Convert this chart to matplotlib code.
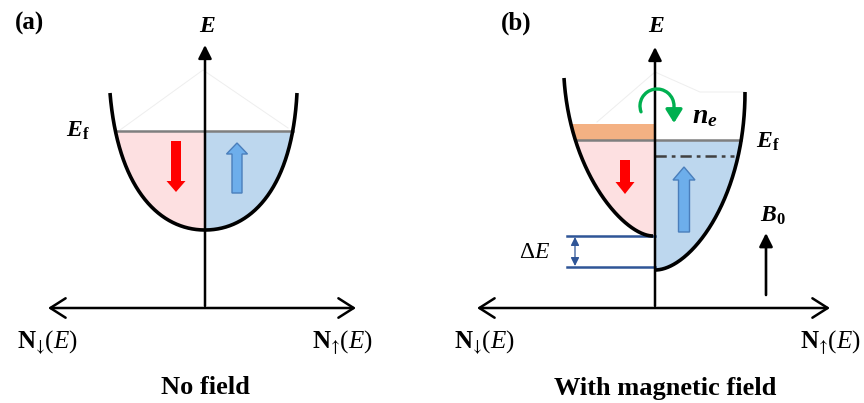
import matplotlib
matplotlib.use('Agg')
import matplotlib.pyplot as plt
import numpy as np
from matplotlib.patches import FancyArrowPatch
from matplotlib.path import Path
from matplotlib.transforms import Affine2D

plt.rcParams['mathtext.fontset'] = 'custom'
plt.rcParams['mathtext.rm'] = 'Liberation Serif'
plt.rcParams['mathtext.it'] = 'Liberation Serif:italic'
plt.rcParams['mathtext.bf'] = 'Liberation Serif:bold'
plt.rcParams['mathtext.bfit'] = 'Liberation Serif:italic:bold'
plt.rcParams['mathtext.sf'] = 'STIXGeneral'   # taller spin arrows
plt.rcParams['font.family'] = 'Liberation Serif'

# band edges as cubic bezier control points (x, energy), drawn top -> bottom
a_down = [(110, 93), (118, 190), (160, 230), (205, 230)]
a_up = [(297, 93), (292, 190), (250, 230), (205, 230)]
b_down = [(564, 78), (570, 175), (625, 236), (653, 236)]
b_up = [(745, 92), (745, 200), (690, 270), (655, 270)]

axis_a = 205
axis_b = 655
ef_a = 131
ef_b = 140
band_top_b = 124      # extra spin-down electrons moved above Ef
dashed_b = 156        # old spin-up level
gap_top, gap_bot = 236, 267   # Zeeman splitting

pink = '#fde0e1'
blue = '#bdd7ee'
orange = '#f4b183'

lbl_down = r'$\mathbf{N}_{\mathsf{↓}}(\mathit{E})$'
lbl_up = r'$\mathbf{N}_{\mathsf{↑}}(\mathit{E})$'


def bezier(ctrl, n=200):
    p = np.array(ctrl, dtype=float)
    t = np.linspace(0, 1, n)[:, None]
    pts = ((1 - t) ** 3 * p[0] + 3 * (1 - t) ** 2 * t * p[1]
           + 3 * (1 - t) * t ** 2 * p[2] + t ** 3 * p[3])
    return pts[:, 0], pts[:, 1]


def fill_band(ax, ctrl, y1, y2, xaxis, color):
    xs, ys = bezier(ctrl)
    m = (ys >= y1) & (ys <= y2)
    x1 = np.interp(y1, ys, xs)
    x2 = np.interp(min(y2, ys[-1]), ys, xs)
    px = [x1] + list(xs[m]) + [x2, xaxis, xaxis]
    py = [y1] + list(ys[m]) + [min(y2, ys[-1]), min(y2, ys[-1]), y1]
    ax.fill(px, py, color=color, lw=0, zorder=1)
    return x1


def arrow(ax, p0, p1, style, color='black', lw=1.8, z=5):
    ax.add_patch(FancyArrowPatch(p0, p1, arrowstyle=style, mutation_scale=1,
                                 color=color, lw=lw, shrinkA=0, shrinkB=0,
                                 zorder=z))


fig = plt.figure(figsize=(8.64, 4.03), dpi=100)
ax = fig.add_axes([0, 0, 1, 1])
ax.set_xlim(0, 864)
ax.set_ylim(403, 0)
ax.axis('off')

# ---- (a) no field ----
ax.plot([120, 203, 288], [130, 70, 128], color='#eeeeee', lw=0.7, zorder=0)
xl = fill_band(ax, a_down, ef_a, 999, axis_a, pink)
xr = fill_band(ax, a_up, ef_a, 999, axis_a, blue)
ax.plot([xl, xr], [ef_a, ef_a], color='#7f7f7f', lw=1.8, zorder=2)
for c in (a_down, a_up):
    ax.plot(*bezier(c), color='black', lw=2.6, zorder=3, solid_capstyle='butt')
arrow(ax, (48, 308), (356, 308), '<->,head_length=11,head_width=7')
arrow(ax, (axis_a, 306), (axis_a, 45), '-|>,head_length=8,head_width=4')
ax.arrow(176, 141, 0, 40, width=10, head_width=19, head_length=11,
         length_includes_head=False, color='#ff0000', lw=0, zorder=4)
ax.arrow(237, 193, 0, -39, width=10, head_width=21, head_length=11,
         length_includes_head=False, fc='#6daeeb', ec='#4a7ebb', lw=1, zorder=4)

ax.text(30, 23, '(a)', fontsize=18, fontweight='bold', ha='center', va='center')
ax.text(207, 26, r'$\mathbfit{E}$', fontsize=17, ha='center', va='center')
ax.text(78, 131, r'$\mathbfit{E}_{\mathbf{f}}$', fontsize=17, ha='center', va='center')
ax.text(17, 348, lbl_down, fontsize=18, va='baseline')
ax.text(312, 348, lbl_up, fontsize=18, va='baseline')
ax.text(205, 388, 'No field', fontsize=19, fontweight='bold', ha='center',
        va='center')

# ---- (b) with magnetic field ----
ax.plot([597, 655, 700, 745], [122, 72, 92, 92], color='#eeeeee', lw=0.7,
        zorder=0)
xl = fill_band(ax, b_down, ef_b, 999, axis_b, pink)
fill_band(ax, b_down, band_top_b, ef_b, axis_b, orange)
xr = fill_band(ax, b_up, ef_b, 999, axis_b, blue)
ax.plot([xl, xr], [ef_b, ef_b], color='#7f7f7f', lw=1.8, zorder=2)
xs, ys = bezier(b_up)
ax.plot([axis_b, np.interp(dashed_b, ys, xs) - 4], [dashed_b, dashed_b],
        color='#404040', lw=1.8, dashes=(4.5, 2, 1.5, 2), zorder=2)
for c in (b_down, b_up):
    ax.plot(*bezier(c), color='black', lw=2.6, zorder=3, solid_capstyle='butt')

# Zeeman gap markers
for y in (gap_top, gap_bot):
    ax.plot([567, axis_b], [y, y], color='#2f5597', lw=1.8, zorder=2)
arrow(ax, (575, gap_top + 1), (575, gap_bot - 1),
      '<|-|>,head_length=5,head_width=2.5', color='#2f5597', lw=0.9)

arrow(ax, (477, 308), (830, 308), '<->,head_length=11,head_width=7')
arrow(ax, (axis_b, 306), (axis_b, 47), '-|>,head_length=8,head_width=4')
arrow(ax, (766, 295), (766, 233), '-|>,head_length=8,head_width=4', lw=1.9)

ax.arrow(625, 160, 0, 22, width=10, head_width=19, head_length=12,
         length_includes_head=False, color='#ff0000', lw=0, zorder=4)
ax.arrow(684, 232, 0, -52, width=11, head_width=22, head_length=13,
         length_includes_head=False, fc='#6daeeb', ec='#4a7ebb', lw=1, zorder=4)

# electron transfer arc: half circle over the E axis, then down into the up band
arc = Path.arc(160, 360).transformed(Affine2D().scale(17, 17).translate(657, 106))
verts = np.vstack([arc.vertices, [[674, 123]]])
codes = list(arc.codes) + [Path.LINETO]
ax.add_patch(FancyArrowPatch(path=Path(verts, codes),
                             arrowstyle='-|>,head_length=8,head_width=5',
                             mutation_scale=1, color='#00b050', lw=2.4, zorder=5))

ax.text(516, 23, '(b)', fontsize=18, fontweight='bold', ha='center', va='center')
ax.text(656, 26, r'$\mathbfit{E}$', fontsize=17, ha='center', va='center')
ax.text(705, 117, r'$\mathbfit{n}_{\mathbfit{e}}$', fontsize=20, ha='center',
        va='center')
ax.text(768, 142, r'$\mathbfit{E}_{\mathbf{f}}$', fontsize=17, ha='center',
        va='center')
ax.text(535, 252, r'$\Delta\mathit{E}$', fontsize=17, ha='center', va='center')
ax.text(773, 216, r'$\mathbfit{B}_{\mathbf{0}}$', fontsize=17, ha='center',
        va='center')
ax.text(454, 348, lbl_down, fontsize=18, va='baseline')
ax.text(800, 348, lbl_up, fontsize=18, va='baseline')
ax.text(665, 388, 'With magnetic field', fontsize=19, fontweight='bold',
        ha='center', va='center')

fig.savefig('out.png', dpi=100)
